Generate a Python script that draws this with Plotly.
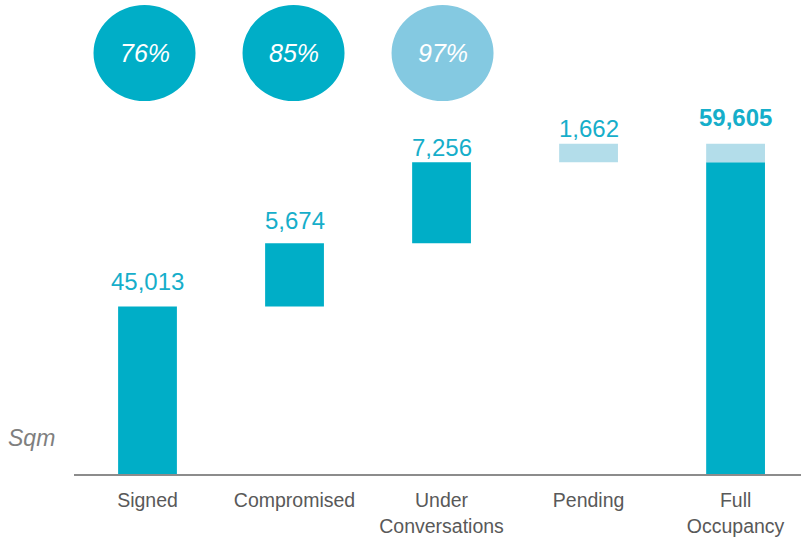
import plotly.graph_objects as go

# Occupancy build-up, square metres
categories = ["Signed", "Compromised", "Under<br>Conversations", "Pending", "Full<br>Occupancy"]
signed = 45013
compromised = 5674
under_conversations = 7256
pending = 1662
full_occupancy = 59605
occupancy_pct = ["76%", "85%", "97%"]

DARK = "#00AEC7"
LIGHT_BAR = "#B3DDEA"
LIGHT_CIRCLE = "#84C9E1"
LABEL = "#16AECA"
FONT = "Liberation Sans, Arial, sans-serif"

# running totals used as floating bar bases
base_compromised = signed
base_under = signed + compromised
base_pending = base_under + under_conversations

fig = go.Figure()

# dark segments: signed, compromised, under conversations, and the firm part of full occupancy
fig.add_trace(go.Bar(
    x=categories,
    y=[signed, compromised, under_conversations, None, base_pending],
    base=[0, base_compromised, base_under, None, 0],
    marker=dict(color=DARK, line=dict(width=0)),
    width=0.4,
    hoverinfo="skip",
))
# light segments: pending, on its own and on top of full occupancy
fig.add_trace(go.Bar(
    x=categories,
    y=[None, None, None, pending, full_occupancy - base_pending],
    base=[None, None, None, base_pending, base_pending],
    marker=dict(color=LIGHT_BAR, line=dict(width=0)),
    width=0.4,
    hoverinfo="skip",
))

# value labels above each bar
label_values = [signed, compromised, under_conversations, pending, full_occupancy]
label_tops = [signed, base_under, base_pending, full_occupancy, full_occupancy]
label_lift = [10, 7, -1, 0, 11]
for i, (cat, val, top, lift) in enumerate(zip(categories, label_values, label_tops, label_lift)):
    txt = f"{val:,}"
    if i == len(categories) - 1:
        txt = f"<b>{txt}</b>"
    fig.add_annotation(
        x=cat, y=top, text=txt, showarrow=False,
        xanchor="center", yanchor="bottom", yshift=lift,
        font=dict(family=FONT, size=24, color=LABEL),
    )

# occupancy percentage bubbles
circle_colors = [DARK, DARK, LIGHT_CIRCLE]
circle_nudge = [-3, -1, 1]
for i, (pct, col, dx) in enumerate(zip(occupancy_pct, circle_colors, circle_nudge)):
    fig.add_shape(
        type="circle", xref="x", yref="paper",
        xsizemode="pixel", ysizemode="pixel",
        xanchor=categories[i], yanchor=0.888,
        x0=-51 + dx, x1=51 + dx, y0=-48, y1=48,
        fillcolor=col, line=dict(width=0), layer="above",
    )
    fig.add_annotation(
        x=categories[i], y=0.888, xref="x", yref="paper",
        xanchor="center", yanchor="middle", xshift=dx,
        text=f"<i>{pct}</i>", showarrow=False,
        font=dict(family=FONT, size=25, color="white"),
    )

# unit label
fig.add_annotation(
    xref="paper", yref="paper", x=-0.0227, y=0.076,
    xanchor="right", yanchor="middle",
    text="<i>Sqm</i>", showarrow=False,
    font=dict(family=FONT, size=23, color="#7F7F7F"),
)

fig.update_layout(
    width=801, height=537,
    margin=dict(l=74, r=0, t=0, b=63),
    paper_bgcolor="white", plot_bgcolor="white",
    barmode="overlay",
    showlegend=False,
    xaxis=dict(
        type="category",
        range=[-0.5, 4.445],
        showline=True, linecolor="#8C8C8C", linewidth=2,
        showgrid=False, zeroline=False, ticks="",
        ticklabelstandoff=8,
        tickfont=dict(family=FONT, size=19.5, color="#595959"),
        fixedrange=True,
    ),
    yaxis=dict(
        range=[30000, 72500],
        visible=False, showgrid=False, zeroline=False,
        fixedrange=True,
    ),
)

fig.write_html("out.html")
